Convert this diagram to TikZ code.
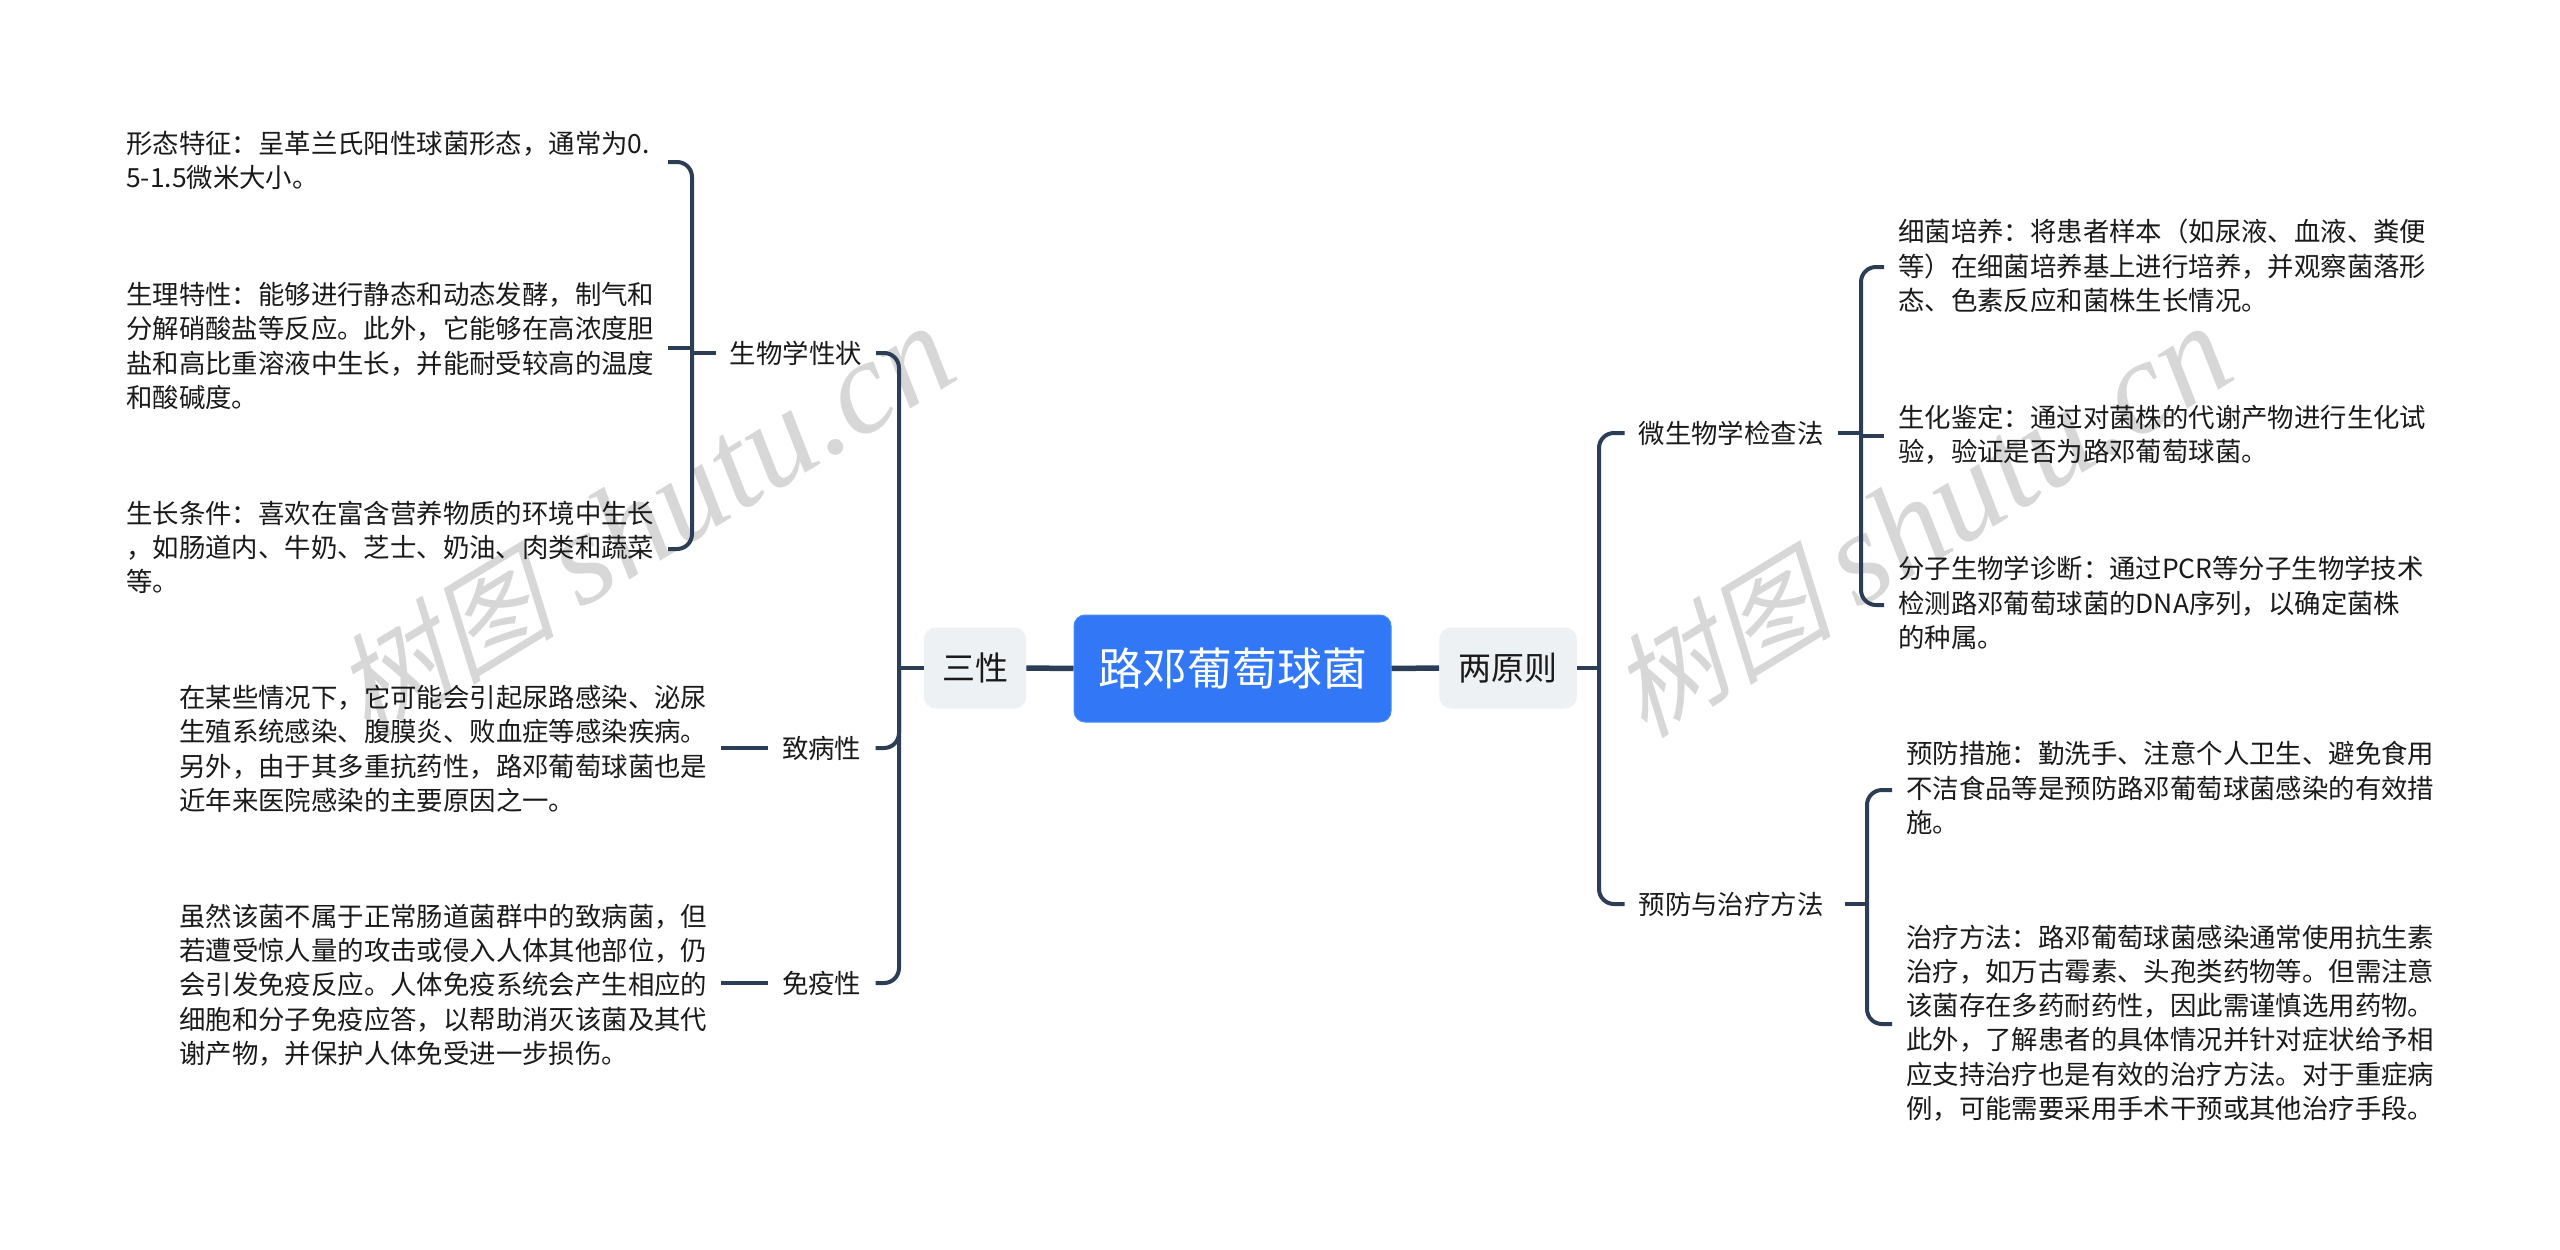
\documentclass[tikz,border=0pt]{standalone}
\usepackage{fontspec}
\setmainfont{Noto Sans CJK SC}
\newfontfamily\wmcjk[FakeSlant=0.25]{Noto Sans CJK SC}
\newfontfamily\wmlat{Liberation Serif}[ItalicFont={Liberation Serif Italic}]
\definecolor{linecol}{HTML}{2C3E55}
\definecolor{rootcol}{HTML}{3278F6}
\definecolor{rootedge}{HTML}{4A8CF0}
\definecolor{boxcol}{HTML}{EEF1F4}
\definecolor{inkcol}{HTML}{1A1A1A}
\definecolor{wmcol}{HTML}{D7D7D7}
\tikzset{
  x=1pt,y=-1pt,
  rootbox/.style={draw=rootedge,line width=1pt,fill=rootcol,rounded corners=11pt,text=white,minimum width=317pt,minimum height=107pt,inner sep=0pt,font=\fontsize{44.8}{50}\selectfont},
  mainbox/.style={fill=boxcol,rounded corners=12pt,text=inkcol,minimum height=81pt,inner sep=0pt,font=\fontsize{33}{38}\selectfont},
  subnode/.style={text=inkcol,inner xsep=14pt,inner ysep=3pt,font=\fontsize{26.4}{34.3}\selectfont},
  leafl/.style={text=inkcol,anchor=east,align=left,text width=527.5pt,inner xsep=14pt,inner ysep=0pt,font=\fontsize{26.4}{34.3}\selectfont},
  leafr/.style={text=inkcol,anchor=west,align=left,text width=528.5pt,inner xsep=14pt,inner ysep=0pt,font=\fontsize{26.4}{34.3}\selectfont},
  conn/.style={draw=linecol,line width=4pt,rounded corners=15pt},
  thickconn/.style={draw=linecol,line width=5.5pt},
  wmark/.style={text=wmcol,rotate=31.3,inner sep=0pt},
}
\newcommand{\wmtext}{{\fontsize{112}{120}\selectfont\wmcjk 树图}\hspace{26pt}{\fontsize{133}{120}\selectfont\wmlat\itshape shutu.cn}}
\begin{document}
\begin{tikzpicture}
\useasboundingbox[fill=white] (0,0) rectangle (2560,1250);
% watermarks
\node[wmark] (wm1) at (643,522) {\wmtext};
\node[wmark] (wm2) at (1920,522) {\wmtext};
% centre
\node[rootbox] (root) at (1232.5,668.5) {路邓葡萄球菌};
\node[mainbox,minimum width=102.5pt] (san) at (975,668) {三性};
\node[mainbox,minimum width=137.5pt] (liang) at (1508,668) {两原则};
% junctions
\coordinate (jl) at (899,668);
\coordinate (jr) at (1599,668);
\coordinate (jsw) at (692,353);
\coordinate (jwei) at (1861,433);
\coordinate (jyu) at (1867,904);
% left branch
\node[subnode,anchor=east] (swxz) at (876,353) {生物学性状};
\node[subnode,anchor=east] (zbx) at (875.5,748) {致病性};
\node[subnode,anchor=east] (myx) at (875.5,983) {免疫性};
\node[leafl] (xt) at (668,160.5) {形态特征：呈革兰氏阳性球菌形态，通常为0.\\5-1.5微米大小。};
\node[leafl] (sl) at (668,346) {生理特性：能够进行静态和动态发酵，制气和\\分解硝酸盐等反应。此外，它能够在高浓度胆\\盐和高比重溶液中生长，并能耐受较高的温度\\和酸碱度。};
\node[leafl] (sz) at (668,547.5) {生长条件：喜欢在富含营养物质的环境中生长\\，如肠道内、牛奶、芝士、奶油、肉类和蔬菜\\等。};
\node[leafl] (zb) at (721,749) {在某些情况下，它可能会引起尿路感染、泌尿\\生殖系统感染、腹膜炎、败血症等感染疾病。\\另外，由于其多重抗药性，路邓葡萄球菌也是\\近年来医院感染的主要原因之一。};
\node[leafl] (my) at (721,985) {虽然该菌不属于正常肠道菌群中的致病菌，但\\若遭受惊人量的攻击或侵入人体其他部位，仍\\会引发免疫反应。人体免疫系统会产生相应的\\细胞和分子免疫应答，以帮助消灭该菌及其代\\谢产物，并保护人体免受进一步损伤。};
% right branch
\node[subnode,anchor=west] (wsw) at (1624.5,433) {微生物学检查法};
\node[subnode,anchor=west] (yf) at (1624.5,904) {预防与治疗方法};
\node[leafr] (xj) at (1884,266) {细菌培养：将患者样本（如尿液、血液、粪便\\等）在细菌培养基上进行培养，并观察菌落形\\态、色素反应和菌株生长情况。};
\node[leafr] (shj) at (1884,434.5) {生化鉴定：通过对菌株的代谢产物进行生化试\\验，验证是否为路邓葡萄球菌。};
\node[leafr] (fz) at (1884,603) {分子生物学诊断：通过PCR等分子生物学技术\\检测路邓葡萄球菌的DNA序列，以确定菌株\\的种属。};
\node[leafr] (ycs) at (1892,788) {预防措施：勤洗手、注意个人卫生、避免食用\\不洁食品等是预防路邓葡萄球菌感染的有效措\\施。};
\node[leafr] (zl) at (1892,1023) {治疗方法：路邓葡萄球菌感染通常使用抗生素\\治疗，如万古霉素、头孢类药物等。但需注意\\该菌存在多药耐药性，因此需谨慎选用药物。\\此外，了解患者的具体情况并针对症状给予相\\应支持治疗也是有效的治疗方法。对于重症病\\例，可能需要采用手术干预或其他治疗手段。};
% connectors
\draw[thickconn] (root.west) -- (san.east);
\draw[thickconn] (root.east) -- (liang.west);
\draw[conn] (san.west) -- (jl);
\draw[conn] (liang.east) -- (jr);
\draw[conn] (jl) |- (swxz.east);
\draw[conn] (jl) |- (zbx.east);
\draw[conn] (jl) |- (myx.east);
\draw[conn] (jr) |- (wsw.west);
\draw[conn] (jr) |- (yf.west);
\draw[conn] (swxz.west) -- (jsw);
\draw[conn] (jsw) |- ([yshift=-1.5pt]xt.east);
\draw[conn] (jsw) |- ([yshift=-1.5pt]sz.east);
\draw[conn] ([yshift=-2pt]sl.east) -- ([yshift=-2pt]sl.east -| jsw);
\draw[conn] (zbx.west) -- (zbx.west -| zb.east);
\draw[conn] (myx.west) -- (myx.west -| my.east);
\draw[conn] (wsw.east) -- (jwei);
\draw[conn] ([yshift=-1.5pt]shj.west) -- ([yshift=-1.5pt]shj.west -| jwei);
\draw[conn] (jwei) |- ([yshift=-1pt]xj.west);
\draw[conn] (jwei) |- ([yshift=-2pt]fz.west);
\draw[conn] ([xshift=7pt]yf.east) -- (jyu);
\draw[conn] (jyu) |- ([yshift=-2pt]ycs.west);
\draw[conn] (jyu) |- ([yshift=-1pt]zl.west);
\end{tikzpicture}
\end{document}
